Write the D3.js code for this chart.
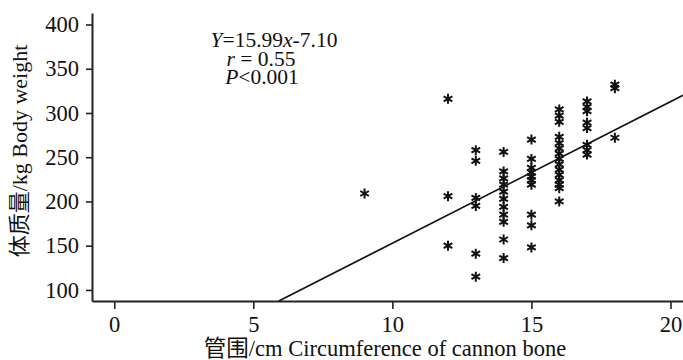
<!DOCTYPE html>
<html>
<head>
<meta charset="utf-8">
<script src="https://cdn.jsdelivr.net/npm/d3@7"></script>
<style>
  body { margin: 0; background: #fff; }
  svg text { font-family: "Liberation Serif", "Times New Roman", "Noto Sans CJK SC", serif; fill: #111; }
</style>
</head>
<body>
<svg width="683" height="360"></svg>
<script>
var svg = d3.select("svg");

// circumference of cannon bone (cm) and body weight (kg)
var circ = [9,
  12, 12, 12,
  13, 13, 13, 13, 13, 13,
  14, 14, 14, 14, 14, 14, 14, 14, 14, 14, 14,
  15, 15, 15, 15, 15, 15, 15, 15, 15, 15,
  16, 16, 16, 16, 16, 16, 16, 16, 16, 16, 16, 16, 16, 16, 16,
  17, 17, 17, 17, 17, 17, 17, 17,
  18, 18, 18];
var weight = [209,
  316, 206, 150,
  258, 246, 204, 195, 141, 115,
  256, 234, 226, 219, 211, 203, 194, 185, 177, 157, 136,
  270, 248, 238, 233, 228, 224, 219, 185, 173, 148,
  304, 297, 290, 273, 266, 260, 254, 248, 242, 236, 230, 224, 219, 215, 200,
  313, 307, 302, 289, 283, 264, 258, 253,
  332, 328, 272];
var xTicks = [0, 5, 10, 15, 20];
var yTicks = [100, 150, 200, 250, 300, 350, 400];
var slope = 15.99, intercept = -7.10;

var xscale = d3.scaleLinear().domain([-0.8, 20.45]).range([92, 683]);
var yscale = d3.scaleLinear().domain([87.5, 413]).range([301, 13]);

// axes
var xAxis = svg.append("g")
  .attr("transform", "translate(0," + yscale(87.5) + ")")
  .call(d3.axisBottom(xscale).tickValues(xTicks).tickSize(8).tickSizeOuter(0).tickPadding(7));
var yAxis = svg.append("g")
  .attr("transform", "translate(" + xscale(-0.8) + ",0)")
  .call(d3.axisLeft(yscale).tickValues(yTicks).tickSize(6).tickSizeOuter(0).tickPadding(7));

[xAxis, yAxis].forEach(function (a) {
  a.select(".domain").attr("stroke", "#222").attr("stroke-width", 2);
  a.selectAll(".tick line").attr("stroke", "#222").attr("stroke-width", 1.6);
  a.selectAll(".tick text").style("font-size", "22.5px").attr("fill", "#111");
});

// regression line
var x0 = (87.5 - intercept) / slope;
var lineData = [x0, 20.45];
svg.append("path")
  .datum(lineData)
  .attr("fill", "none")
  .attr("stroke", "#111")
  .attr("stroke-width", 1.7)
  .attr("d", d3.line()
    .x(function (d) { return xscale(d); })
    .y(function (d) { return yscale(slope * d + intercept); }));

// asterisk markers
var r = 5;
function star(cx, cy) {
  var p = "";
  [90, 30, 150].forEach(function (a) {
    var rad = a * Math.PI / 180;
    var dx = r * Math.cos(rad), dy = r * Math.sin(rad);
    p += "M" + (cx - dx) + "," + (cy - dy) + "L" + (cx + dx) + "," + (cy + dy);
  });
  return p;
}
svg.append("g").selectAll("path")
  .data(circ)
  .enter()
  .append("path")
  .attr("d", function (d, i) { return star(xscale(d), yscale(weight[i])); })
  .attr("stroke", "#111")
  .attr("stroke-width", 2)
  .attr("fill", "none");

// statistics text
var ann = svg.append("text").attr("text-anchor", "middle").style("font-size", "21.5px");
var l1 = ann.append("tspan").attr("x", 274).attr("y", 47);
l1.append("tspan").style("font-style", "italic").text("Y");
l1.append("tspan").text("=15.99");
l1.append("tspan").style("font-style", "italic").text("x");
l1.append("tspan").text("-7.10");
var l2 = ann.append("tspan").attr("x", 261).attr("y", 66);
l2.append("tspan").style("font-style", "italic").text("r");
l2.append("tspan").text(" = 0.55");
var l3 = ann.append("tspan").attr("x", 262).attr("y", 84);
l3.append("tspan").style("font-style", "italic").text("P");
l3.append("tspan").text("<0.001");

// axis titles
svg.append("text")
  .attr("x", 385).attr("y", 356)
  .attr("text-anchor", "middle")
  .style("font-size", "22.5px")
  .text("管围/cm Circumference of cannon bone");
svg.append("text")
  .attr("transform", "translate(27,151) rotate(-90)")
  .attr("text-anchor", "middle")
  .style("font-size", "22px")
  .text("体质量/kg Body weight");
</script>
</body>
</html>
